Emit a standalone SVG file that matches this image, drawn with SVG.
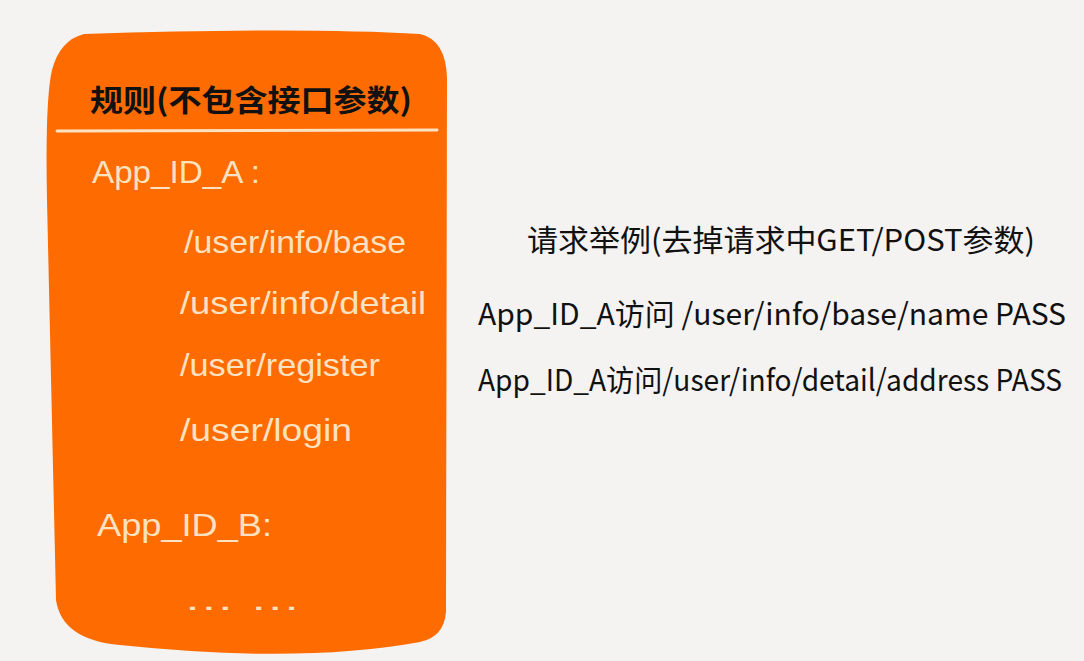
<svg xmlns="http://www.w3.org/2000/svg" width="1084" height="661" viewBox="0 0 1084 661">
<style>
.cream{fill:#fde2c2;font-family:"Liberation Sans","Noto Sans CJK SC",sans-serif;font-size:32px}
.dark{fill:#111;font-family:"Noto Sans CJK SC","Liberation Sans",sans-serif;font-size:30px}
</style>
<rect width="1084" height="661" fill="#f4f3f1"/>
<g id="rules">
<path d="M 84 34 Q 300 27 420 34 Q 446 40 447 78 L 446 612 Q 444 637 420 642 Q 300 664 120 645 Q 62 640 56 600 L 47 200 Q 45 100 52 70 Q 60 40 84 34 Z" fill="#fe6b00"/>
<text x="251" y="111" text-anchor="middle" class="dark" font-size="32" font-weight="bold" textLength="322" lengthAdjust="spacingAndGlyphs">规则(不包含接口参数)</text>
<line x1="57" y1="131" x2="437" y2="130" stroke="#fde2c2" stroke-width="3" stroke-linecap="round"/>
<text x="92" y="183" class="cream" textLength="168" lengthAdjust="spacingAndGlyphs">App_ID_A :</text>
<text x="184" y="253" class="cream" textLength="222" lengthAdjust="spacingAndGlyphs">/user/info/base</text>
<text x="180" y="314" class="cream" textLength="246" lengthAdjust="spacingAndGlyphs">/user/info/detail</text>
<text x="180" y="376" class="cream" textLength="200" lengthAdjust="spacingAndGlyphs">/user/register</text>
<text x="180" y="441" class="cream" textLength="172" lengthAdjust="spacingAndGlyphs">/user/login</text>
<text x="97" y="536" class="cream" textLength="175" lengthAdjust="spacingAndGlyphs">App_ID_B:</text>
<text x="183" y="610" class="cream" textLength="118" lengthAdjust="spacingAndGlyphs">… …</text>
</g>
<g id="examples">
<text x="781" y="251" text-anchor="middle" class="dark" textLength="508" lengthAdjust="spacingAndGlyphs">请求举例(去掉请求中GET/POST参数)</text>
<text x="478" y="325" class="dark" textLength="588" lengthAdjust="spacingAndGlyphs">App_ID_A访问 /user/info/base/name PASS</text>
<text x="478" y="391" class="dark" textLength="584" lengthAdjust="spacingAndGlyphs">App_ID_A访问/user/info/detail/address PASS</text>
</g>
<g id="connectors"/>
</svg>
